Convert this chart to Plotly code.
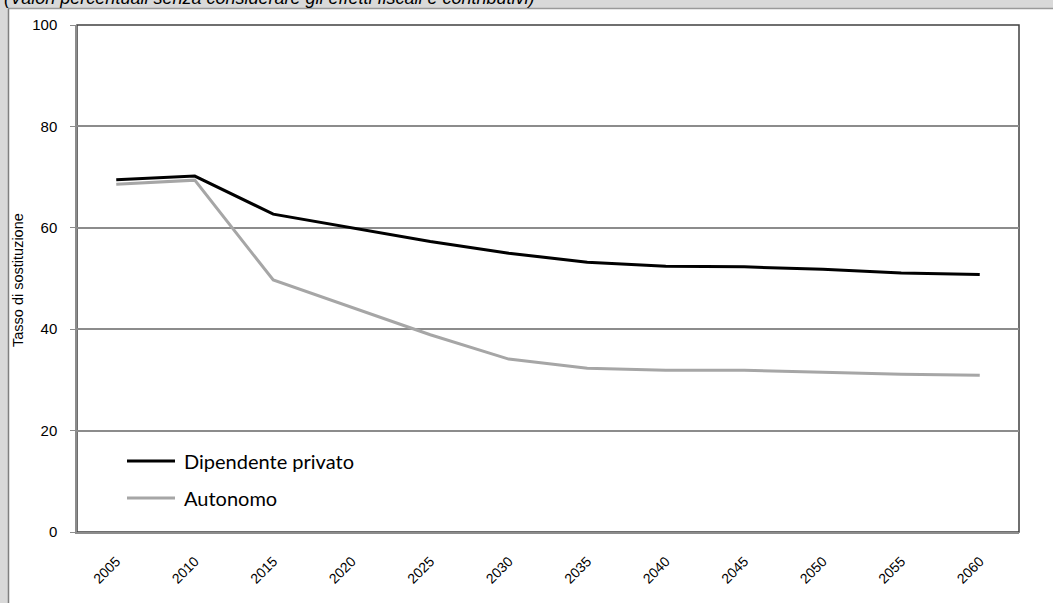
import plotly.graph_objects as go

years = ["2005", "2010", "2015", "2020", "2025", "2030", "2035", "2040", "2045", "2050", "2055", "2060"]
dipendente = [69.5, 70.2, 62.7, 60.0, 57.3, 55.0, 53.2, 52.4, 52.3, 51.8, 51.1, 50.8]
autonomo = [68.6, 69.4, 49.7, 44.3, 38.9, 34.1, 32.3, 31.9, 31.9, 31.5, 31.1, 30.9]
series_names = ["Dipendente privato", "Autonomo"]
series_colors = ["#000000", "#a6a6a6"]
y_ticks = [0, 20, 40, 60, 80, 100]
title_text = "(Valori percentuali senza considerare gli effetti fiscali e contributivi)"
y_title = "Tasso di sostituzione"

W, H = 1053, 603
L, R, T, B = 77, 34, 25, 71
PW, PH = W - L - R, H - T - B

def px(x):
    return (x - L) / PW

def py(y):
    return (H - B - y) / PH

fig = go.Figure()
for name, vals, col in zip(series_names, [dipendente, autonomo], series_colors):
    fig.add_trace(go.Scatter(x=years, y=vals, mode="lines", name=name,
                             line=dict(color=col, width=3), showlegend=False))

shapes = []
# plot area border
shapes.append(dict(type="rect", xref="paper", yref="paper", x0=0, x1=1, y0=0, y1=1,
                   line=dict(color="#404040", width=1.5), layer="below"))
# top grey strip
shapes.append(dict(type="rect", xref="paper", yref="paper", x0=px(-5), x1=px(W + 5),
                   y0=py(8.5), y1=py(-5), fillcolor="#d9d9d9", line=dict(width=0), layer="below"))
shapes.append(dict(type="line", xref="paper", yref="paper", x0=px(0), x1=px(W + 5),
                   y0=py(8.5), y1=py(8.5), line=dict(color="#9a9a9a", width=1.5), layer="below"))
# left grey strip
shapes.append(dict(type="rect", xref="paper", yref="paper", x0=px(-5), x1=px(8),
                   y0=py(H + 5), y1=py(-5), fillcolor="#d9d9d9", line=dict(width=0), layer="below"))
shapes.append(dict(type="line", xref="paper", yref="paper", x0=px(8.5), x1=px(8.5),
                   y0=py(H + 5), y1=py(8.5), line=dict(color="#808080", width=1.5), layer="below"))

annotations = []
# manual legend
for i, (name, col) in enumerate(zip(series_names, series_colors)):
    yy = 461 + i * 37
    shapes.append(dict(type="line", xref="paper", yref="paper", x0=px(127), x1=px(175),
                       y0=py(yy), y1=py(yy), line=dict(color=col, width=3)))
    annotations.append(dict(text=name, xref="paper", yref="paper", x=px(182), y=py(yy),
                            xanchor="left", yanchor="middle", showarrow=False,
                            font=dict(family="Lato", size=20, color="#000000")))

annotations.append(dict(text=title_text, xref="paper", yref="paper", x=px(2), y=py(10),
                        xanchor="left", yanchor="bottom", showarrow=False,
                        font=dict(family="Liberation Sans", size=18, color="#000000", style="italic")))
annotations.append(dict(text=y_title, xref="paper", yref="paper", x=px(18), y=py(280),
                        xanchor="center", yanchor="middle", textangle=-90, showarrow=False,
                        font=dict(family="Liberation Sans", size=14.5, color="#000000")))

fig.update_layout(
    width=W, height=H,
    margin=dict(l=L, r=R, t=T, b=B),
    paper_bgcolor="#ffffff", plot_bgcolor="#ffffff",
    shapes=shapes, annotations=annotations,
    font=dict(family="Liberation Sans", size=14, color="#000000"),
    xaxis=dict(type="category", categoryorder="array", categoryarray=years,
               tickangle=-45, ticks="", showgrid=False, showline=True,
               linecolor="#8c8c8c", linewidth=1.5, range=[-0.5, len(years) - 0.5],
               ticklabelstandoff=14, tickfont=dict(size=14)),
    yaxis=dict(range=[0, 100], tickvals=y_ticks, ticks="outside", ticklen=5,
               tickcolor="#8c8c8c", showgrid=True, gridcolor="#8c8c8c", gridwidth=1.5,
               showline=True, linecolor="#8c8c8c", linewidth=1.5, zeroline=False,
               ticklabelstandoff=10, tickfont=dict(size=15)),
)

fig.write_html("out.html", config={"displayModeBar": False},
               post_script="document.body.style.margin='0';document.body.style.overflow='hidden';")
